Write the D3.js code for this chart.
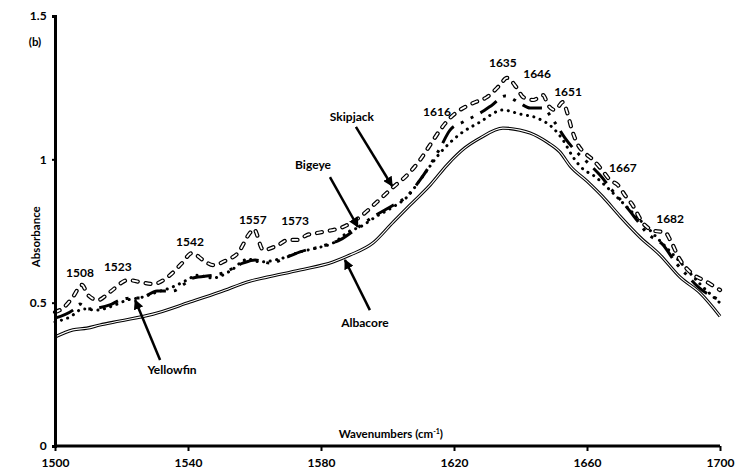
<!DOCTYPE html>
<html>
<head>
<meta charset="utf-8">
<script src="https://cdn.jsdelivr.net/npm/d3@7"></script>
<style>
  body { margin: 0; background: #fff; }
  text { font-family: Lato, "Open Sans", sans-serif; font-weight: bold; fill: #000; }
</style>
</head>
<body>
<svg id="vis" width="740" height="475"></svg>
<script>
// spectra (wavenumber, absorbance)
var skipjackWn = [1500, 1502.4, 1505.4, 1508.1, 1509.9, 1512.9, 1516.5, 1522, 1525.6, 1529.5, 1534.6, 1538.2, 1541.2, 1544.5, 1547.5, 1551.7, 1555, 1558.6, 1559.8, 1562.6, 1567.1, 1570.1, 1573.1, 1575.8, 1578.8, 1582.1, 1586.6, 1591.7, 1596.8, 1601.7, 1605.9, 1609.8, 1612.8, 1615.8, 1618.8, 1621.8, 1625.7, 1629.9, 1633.8, 1635.9, 1638.9, 1640.8, 1643.8, 1646.8, 1648.3, 1650.4, 1652.8, 1654, 1655.5, 1657.3, 1659.4, 1661.8, 1664.5, 1666.9, 1669.3, 1671.4, 1673.5, 1676.8, 1680.5, 1683.5, 1685, 1688, 1691, 1696.1, 1700];
var skipjackAbs = [0.467, 0.481, 0.520, 0.562, 0.527, 0.509, 0.537, 0.579, 0.572, 0.565, 0.596, 0.638, 0.673, 0.649, 0.631, 0.649, 0.673, 0.743, 0.757, 0.684, 0.701, 0.719, 0.719, 0.736, 0.743, 0.750, 0.764, 0.799, 0.851, 0.903, 0.945, 0.998, 1.050, 1.102, 1.144, 1.172, 1.196, 1.217, 1.259, 1.284, 1.249, 1.217, 1.207, 1.224, 1.189, 1.172, 1.200, 1.165, 1.102, 1.050, 1.022, 0.998, 0.963, 0.928, 0.910, 0.875, 0.844, 0.778, 0.750, 0.746, 0.719, 0.649, 0.607, 0.572, 0.544];

var bigeyeWn = [1500, 1504.5, 1508.4, 1512.6, 1516.5, 1521.7, 1526.5, 1530.7, 1534.6, 1539.7, 1542.7, 1547.5, 1552.6, 1558, 1561.7, 1568.6, 1573.7, 1578.8, 1583.6, 1588.7, 1591.7, 1596.8, 1601.7, 1605.9, 1609.8, 1615.8, 1621.8, 1627.8, 1634.7, 1639.8, 1645, 1649.8, 1652.8, 1655.8, 1658.8, 1661.8, 1666, 1669.9, 1673.8, 1678, 1682, 1688, 1694, 1700];
var bigeyeAbs = [0.433, 0.450, 0.478, 0.474, 0.485, 0.509, 0.520, 0.537, 0.551, 0.579, 0.596, 0.586, 0.610, 0.652, 0.642, 0.656, 0.677, 0.691, 0.708, 0.750, 0.764, 0.802, 0.834, 0.869, 0.928, 1.022, 1.088, 1.130, 1.172, 1.158, 1.144, 1.109, 1.067, 1.008, 0.966, 0.945, 0.903, 0.858, 0.813, 0.764, 0.715, 0.642, 0.565, 0.499];

var yellowfinWn = [1500, 1505.4, 1507.5, 1509.9, 1512.6, 1516.5, 1519.5, 1522.6, 1525.6, 1530.7, 1535.5, 1538.5, 1541.5, 1547.5, 1550.5, 1556.5, 1560.2, 1564.7, 1569.8, 1573.7, 1580.6, 1585.7, 1591.7, 1595.6, 1600.8, 1605.9, 1609.8, 1615.8, 1618.8, 1622.7, 1627.8, 1631.4, 1635.3, 1639.8, 1642.9, 1646.5, 1650.4, 1653.4, 1655.8, 1660, 1663.9, 1667.5, 1671.4, 1675, 1678, 1682.9, 1686.5, 1689.5, 1693.4, 1700];
var yellowfinAbs = [0.446, 0.474, 0.495, 0.478, 0.481, 0.492, 0.509, 0.516, 0.516, 0.541, 0.541, 0.562, 0.586, 0.596, 0.603, 0.638, 0.649, 0.638, 0.659, 0.677, 0.698, 0.719, 0.767, 0.799, 0.834, 0.872, 0.928, 1.039, 1.102, 1.130, 1.161, 1.189, 1.221, 1.196, 1.179, 1.179, 1.127, 1.074, 1.039, 0.991, 0.945, 0.893, 0.841, 0.788, 0.743, 0.701, 0.642, 0.603, 0.555, 0.509];

var albacoreWn = [1500, 1505.4, 1509.6, 1513.5, 1519.5, 1529.5, 1540.6, 1549.6, 1558.6, 1563.8, 1573.7, 1583.6, 1588.7, 1595.6, 1601.7, 1607.7, 1612.8, 1617.9, 1623.3, 1627.8, 1634.7, 1639.8, 1642.9, 1648, 1651.9, 1654.9, 1660, 1664.8, 1669.9, 1675.9, 1682, 1688, 1694, 1700];
var albacoreAbs = [0.380, 0.405, 0.411, 0.422, 0.436, 0.460, 0.502, 0.537, 0.575, 0.589, 0.614, 0.642, 0.666, 0.708, 0.781, 0.851, 0.910, 0.980, 1.040, 1.074, 1.109, 1.102, 1.092, 1.060, 1.025, 0.977, 0.924, 0.869, 0.802, 0.729, 0.666, 0.589, 0.534, 0.453];

// peak labels and where they sit (wavenumber, absorbance)
var peakLabels = ["1508", "1523", "1542", "1557", "1573", "1616", "1635", "1646", "1651", "1667", "1682"];
var peakLabelWn = [1507.5, 1518.9, 1540.6, 1559.5, 1572.2, 1614.9, 1634.7, 1645, 1654.3, 1670.8, 1685];
var peakLabelAbs = [0.603, 0.624, 0.712, 0.788, 0.785, 1.165, 1.336, 1.298, 1.235, 0.970, 0.792];

// species names with arrow from -> to
var speciesNames = ["Skipjack", "Bigeye", "Albacore", "Yellowfin"];
var nameWn = [1589.3, 1577.6, 1593.2, 1535.2];
var nameAbs = [1.148, 0.980, 0.429, 0.265];
var arrowFrom = [[1590.5, 1.113], [1582.7, 0.938], [1594.7, 0.474], [1531.6, 0.300]];
var arrowTo = [[1601.4, 0.907], [1591.1, 0.764], [1587.2, 0.649], [1524.1, 0.509]];

var xTicks = [1500, 1540, 1580, 1620, 1660, 1700];
var yTicks = [0, 0.5, 1, 1.5];

var svg = d3.select("#vis"),
    width = +svg.attr("width"),
    height = +svg.attr("height");

var margin = {top: 16, right: 20, bottom: 29, left: 55};

var x = d3.scaleLinear().domain([1500, 1700]).range([margin.left, width - margin.right]);
var y = d3.scaleLinear().domain([0, 1.5]).range([height - margin.bottom, margin.top]);

function pts(wn, ab) {
  return wn.map(function(d, i) { return [d, ab[i]]; });
}

var line = d3.line()
    .x(function(d) { return x(d[0]); })
    .y(function(d) { return y(d[1]); })
    .curve(d3.curveMonotoneX);

var g = svg.append("g");

// albacore: double line
g.append("path").attr("d", line(pts(albacoreWn, albacoreAbs)))
    .attr("fill", "none").attr("stroke", "#000").attr("stroke-width", 3.2);
g.append("path").attr("d", line(pts(albacoreWn, albacoreAbs)))
    .attr("fill", "none").attr("stroke", "#fff").attr("stroke-width", 1.1);

// bigeye: round dots
g.append("path").attr("d", line(pts(bigeyeWn, bigeyeAbs)))
    .attr("fill", "none").attr("stroke", "#000").attr("stroke-width", 3)
    .attr("stroke-linecap", "round").attr("stroke-dasharray", "0.1,6.5");

// yellowfin: long dash dot dot
g.append("path").attr("d", line(pts(yellowfinWn, yellowfinAbs)))
    .attr("fill", "none").attr("stroke", "#000").attr("stroke-width", 3)
    .attr("stroke-dasharray", "20,8,3,8,3,8");

// skipjack: outlined dashes
g.append("path").attr("d", line(pts(skipjackWn, skipjackAbs)))
    .attr("fill", "none").attr("stroke", "#000").attr("stroke-width", 4.2)
    .attr("stroke-linecap", "round").attr("stroke-dasharray", "5,8");
g.append("path").attr("d", line(pts(skipjackWn, skipjackAbs)))
    .attr("fill", "none").attr("stroke", "#fff").attr("stroke-width", 1.8)
    .attr("stroke-linecap", "round").attr("stroke-dasharray", "5,8");

// axes
var xAxis = svg.append("g")
    .attr("transform", "translate(0," + y(0) + ")")
    .call(d3.axisBottom(x).tickValues(xTicks).tickSize(5).tickFormat(d3.format("d")));
var yAxis = svg.append("g")
    .attr("transform", "translate(" + x(1500) + ",0)")
    .call(d3.axisLeft(y).tickValues(yTicks).tickSize(3).tickFormat(function(d) { return d; }));

[xAxis, yAxis].forEach(function(a) {
  a.select(".domain").attr("stroke", "#000").attr("stroke-width", 3);
  a.selectAll(".tick line").attr("stroke", "#000").attr("stroke-width", 2);
  a.selectAll(".tick text").attr("font-family", "Lato, sans-serif")
      .attr("font-weight", "bold").attr("font-size", 12);
});
xAxis.select(".domain").attr("d", "M" + x(1500) + ",0H" + x(1700));
xAxis.selectAll(".tick text").attr("dy", "1.05em");
yAxis.selectAll(".tick text").attr("dx", "-0.2em");

// axis titles
svg.append("text")
    .attr("x", x(1601)).attr("y", y(0) - 8)
    .attr("text-anchor", "middle").attr("font-size", 11.5)
    .text("Wavenumbers (cm")
  .append("tspan").attr("baseline-shift", "super").attr("font-size", 7).text("-1")
  .select(function() { return this.parentNode; })
  .append("tspan").text(")");

svg.append("text")
    .attr("transform", "translate(40," + y(0.73) + ") rotate(-90)")
    .attr("text-anchor", "middle").attr("font-size", 11.5)
    .text("Absorbance");

svg.append("text")
    .attr("x", 35).attr("y", 46)
    .attr("text-anchor", "middle").attr("font-size", 11.5)
    .text("(b)");

// peak labels
svg.append("g").selectAll("text")
    .data(peakLabels)
    .enter().append("text")
      .attr("x", function(d, i) { return x(peakLabelWn[i]); })
      .attr("y", function(d, i) { return y(peakLabelAbs[i]); })
      .attr("dy", "0.35em")
      .attr("text-anchor", "middle").attr("font-size", 12)
      .text(function(d) { return d; });

// arrows + names
svg.append("defs").append("marker")
    .attr("id", "head")
    .attr("viewBox", "0 0 10 10")
    .attr("refX", 9).attr("refY", 5)
    .attr("markerWidth", 4).attr("markerHeight", 4)
    .attr("markerUnits", "strokeWidth")
    .attr("orient", "auto")
  .append("path").attr("d", "M0,0L10,5L0,10z").attr("fill", "#000");

svg.append("g").selectAll("line")
    .data(speciesNames)
    .enter().append("line")
      .attr("x1", function(d, i) { return x(arrowFrom[i][0]); })
      .attr("y1", function(d, i) { return y(arrowFrom[i][1]); })
      .attr("x2", function(d, i) { return x(arrowTo[i][0]); })
      .attr("y2", function(d, i) { return y(arrowTo[i][1]); })
      .attr("stroke", "#000").attr("stroke-width", 2.5)
      .attr("marker-end", "url(#head)");

svg.append("g").selectAll("text")
    .data(speciesNames)
    .enter().append("text")
      .attr("x", function(d, i) { return x(nameWn[i]); })
      .attr("y", function(d, i) { return y(nameAbs[i]); })
      .attr("dy", "0.35em")
      .attr("text-anchor", "middle").attr("font-size", 12)
      .text(function(d) { return d; });
</script>
</body>
</html>
